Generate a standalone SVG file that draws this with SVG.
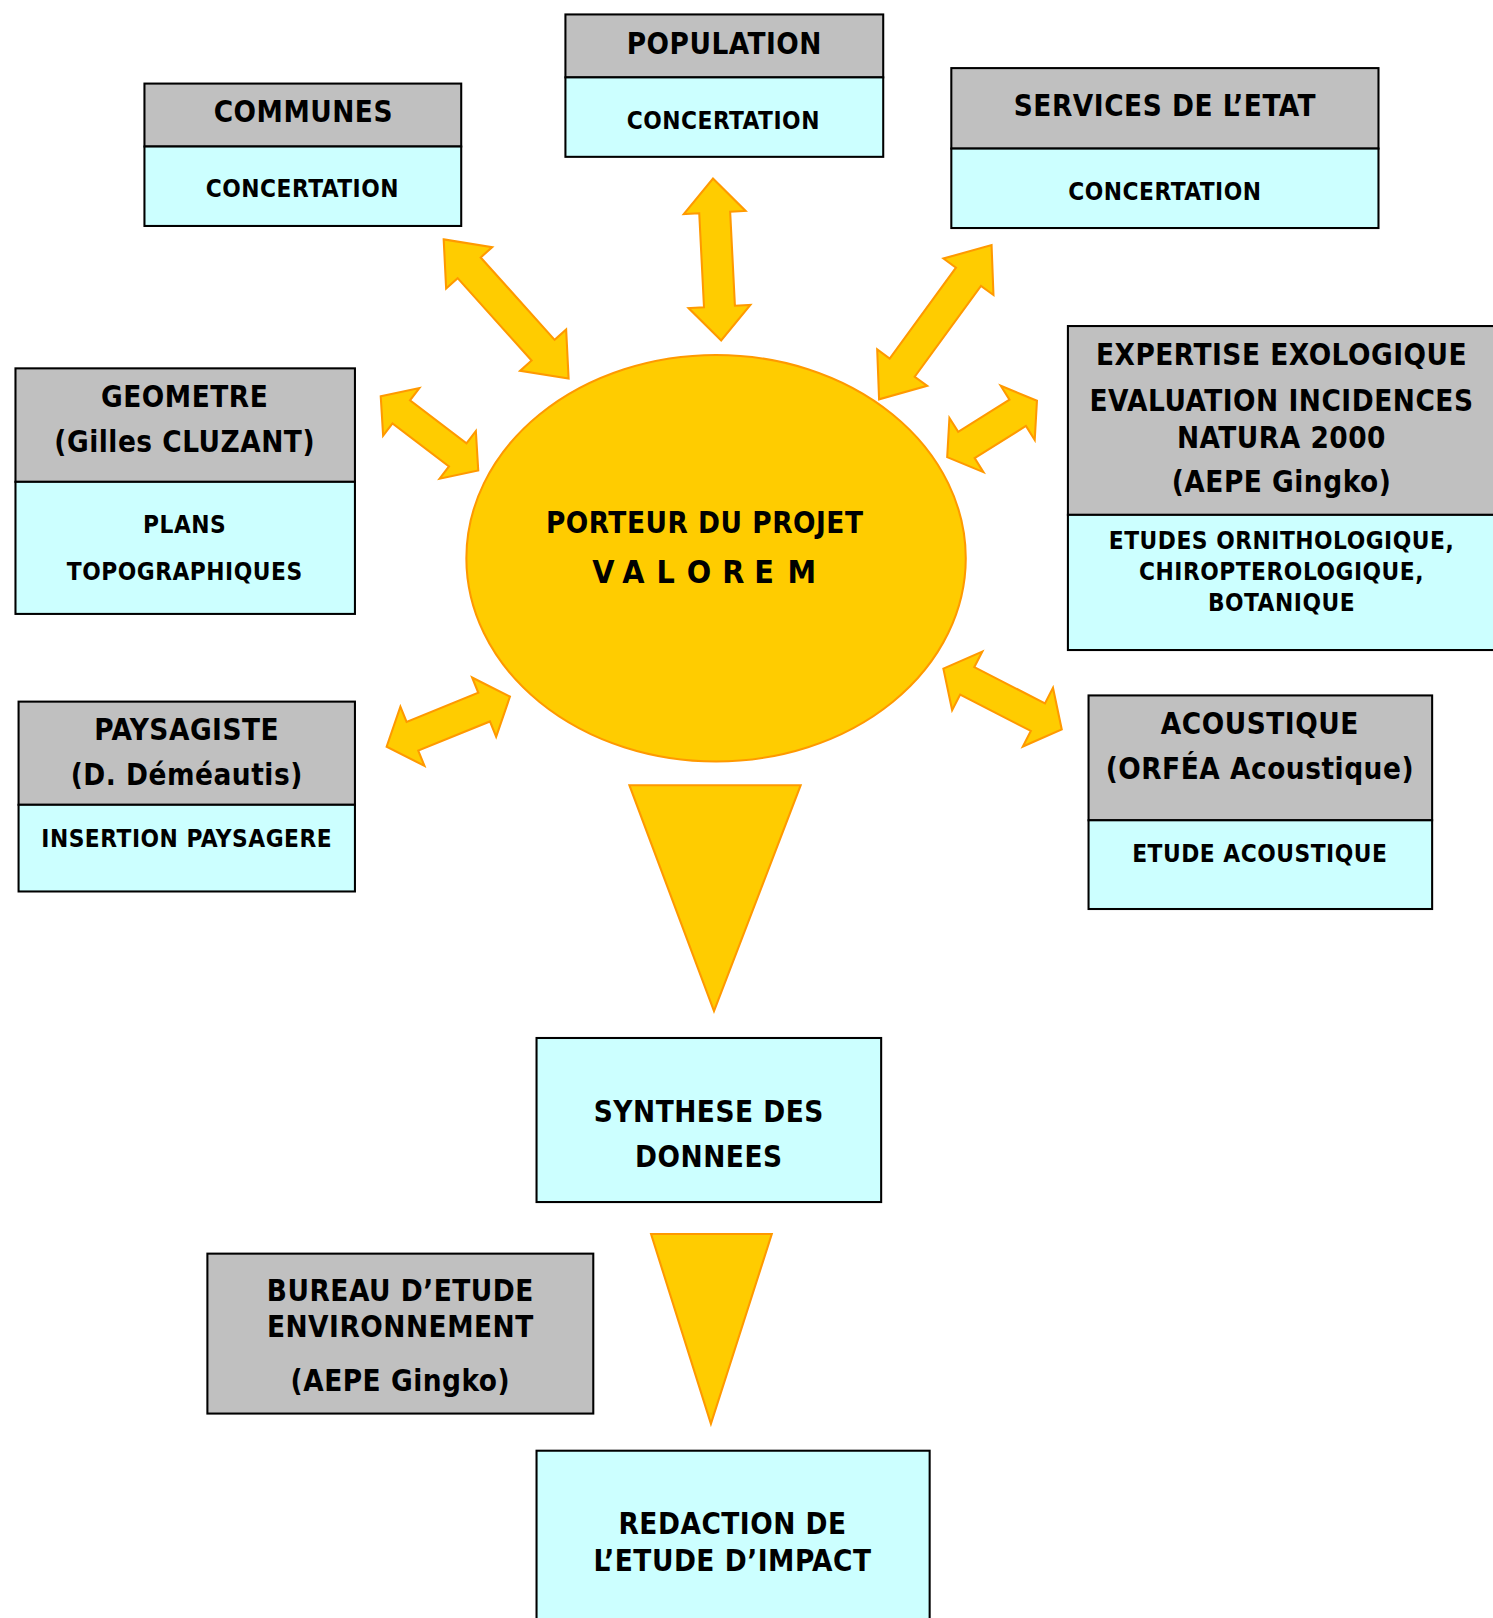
<svg xmlns="http://www.w3.org/2000/svg" width="1493" height="1618" viewBox="0 0 1493 1618">
<style>
.g{fill:#C0C0C0;stroke:#000;stroke-width:2}
.c{fill:#CCFFFF;stroke:#000;stroke-width:2}
.y{fill:#FFCC00;stroke:#FF9900;stroke-width:2;stroke-linejoin:miter}
text{font-family:'DejaVu Sans Condensed','DejaVu Sans',sans-serif;font-stretch:condensed;font-weight:bold;fill:#000;text-anchor:middle}
.t{font-size:28.5px;letter-spacing:0.5px}
.s{font-size:23.5px;letter-spacing:0.5px}
</style>
<rect width="1493" height="1618" fill="#fff"/>
<g transform="scale(1.0318)">
<g id="connectors">
<path class="y" d="M0,0 L37,-30 L37,-15 L144.3,-15 L144.3,-30 L181.3,0 L144.3,30 L144.3,15 L37,15 L37,30 Z" transform="translate(430,232) rotate(48.1)"/>
<path class="y" d="M0,0 L33,-30 L33,-15 L124.2,-15 L124.2,-30 L157.2,0 L124.2,30 L124.2,15 L33,15 L33,30 Z" transform="translate(691,173) rotate(87.1)"/>
<path class="y" d="M0,0 L38,-30 L38,-15 L147,-15 L147,-30 L185,0 L147,30 L147,15 L38,15 L38,30 Z" transform="translate(961,237.5) rotate(126.1)"/>
<path class="y" d="M0,0 L25,-29 L25,-14 L93.8,-14 L93.8,-29 L118.8,0 L93.8,29 L93.8,14 L25,14 L25,29 Z" transform="translate(369,384) rotate(37.3)"/>
<path class="y" d="M0,0 L22,-31 L22,-15 L80.7,-15 L80.7,-31 L102.7,0 L80.7,31 L80.7,15 L22,15 L22,31 Z" transform="translate(918,443) rotate(-32.1)"/>
<path class="y" d="M0,0 L27,-31 L27,-15 L102,-15 L102,-31 L129,0 L102,31 L102,15 L27,15 L27,31 Z" transform="translate(374.7,723.7) rotate(-22.1)"/>
<path class="y" d="M0,0 L26,-32 L26,-15 L103,-15 L103,-32 L129,0 L103,32 L103,15 L26,15 L26,32 Z" transform="translate(914.3,648) rotate(27.2)"/>
<polygon class="y" points="610,761 776,761 692,980"/>
<polygon class="y" points="631,1196 748,1196 689,1380"/>
</g>
<g id="porteur">
<ellipse class="y" cx="694" cy="541" rx="242" ry="197"/>
<text class="t" x="683" y="517">PORTEUR DU PROJET</text>
<text style="font-size:31px" x="584.7 613.8 645.2 677.5 710.7 740.5 777" y="565">VALOREM</text>
</g>
<g id="communes">
<rect class="g" x="140" y="81" width="307" height="61"/>
<rect class="c" x="140" y="142" width="307" height="77"/>
<text class="t" x="294" y="118">COMMUNES</text>
<text class="s" x="293" y="191">CONCERTATION</text>
</g>
<g id="population">
<rect class="g" x="548" y="14" width="308" height="61"/>
<rect class="c" x="548" y="75" width="308" height="77"/>
<text class="t" x="702" y="52">POPULATION</text>
<text class="s" x="701" y="125">CONCERTATION</text>
</g>
<g id="services">
<rect class="g" x="922" y="66" width="414" height="78"/>
<rect class="c" x="922" y="144" width="414" height="77"/>
<text class="t" x="1129" y="112">SERVICES DE L’ETAT</text>
<text class="s" x="1129" y="194">CONCERTATION</text>
</g>
<g id="geometre">
<rect class="g" x="15" y="357" width="329" height="110"/>
<rect class="c" x="15" y="467" width="329" height="128"/>
<text class="t" x="179" y="394">GEOMETRE</text>
<text class="t" x="179" y="438">(Gilles CLUZANT)</text>
<text class="s" x="179" y="517">PLANS</text>
<text class="s" x="179" y="562">TOPOGRAPHIQUES</text>
</g>
<g id="expertise">
<rect class="g" x="1035" y="316" width="430" height="183"/>
<rect class="c" x="1035" y="499" width="430" height="131"/>
<text class="t" x="1242" y="354">EXPERTISE EXOLOGIQUE</text>
<text class="t" x="1242" y="398">EVALUATION INCIDENCES</text>
<text class="t" x="1242" y="434">NATURA 2000</text>
<text class="t" x="1242" y="477">(AEPE Gingko)</text>
<text class="s" x="1242" y="532">ETUDES ORNITHOLOGIQUE,</text>
<text class="s" x="1242" y="562">CHIROPTEROLOGIQUE,</text>
<text class="s" x="1242" y="592">BOTANIQUE</text>
</g>
<g id="paysagiste">
<rect class="g" x="18" y="680" width="326" height="100"/>
<rect class="c" x="18" y="780" width="326" height="84"/>
<text class="t" x="181" y="717">PAYSAGISTE</text>
<text class="t" x="181" y="761">(D. Déméautis)</text>
<text class="s" x="181" y="821">INSERTION PAYSAGERE</text>
</g>
<g id="acoustique">
<rect class="g" x="1055" y="674" width="333" height="121"/>
<rect class="c" x="1055" y="795" width="333" height="86"/>
<text class="t" x="1221" y="711">ACOUSTIQUE</text>
<text class="t" x="1221" y="755">(ORFÉA Acoustique)</text>
<text class="s" x="1221" y="835">ETUDE ACOUSTIQUE</text>
</g>
<g id="synthese">
<rect class="c" x="520" y="1006" width="334" height="159"/>
<text class="t" x="687" y="1087">SYNTHESE DES</text>
<text class="t" x="687" y="1131">DONNEES</text>
</g>
<g id="bureau">
<rect class="g" x="201" y="1215" width="374" height="155"/>
<text class="t" x="388" y="1261">BUREAU D’ETUDE</text>
<text class="t" x="388" y="1296">ENVIRONNEMENT</text>
<text class="t" x="388" y="1348">(AEPE Gingko)</text>
</g>
<g id="redaction">
<rect class="c" x="520" y="1406" width="381" height="230"/>
<text class="t" x="710" y="1487">REDACTION DE</text>
<text class="t" x="710" y="1523">L’ETUDE D’IMPACT</text>
</g>
</g>
</svg>
